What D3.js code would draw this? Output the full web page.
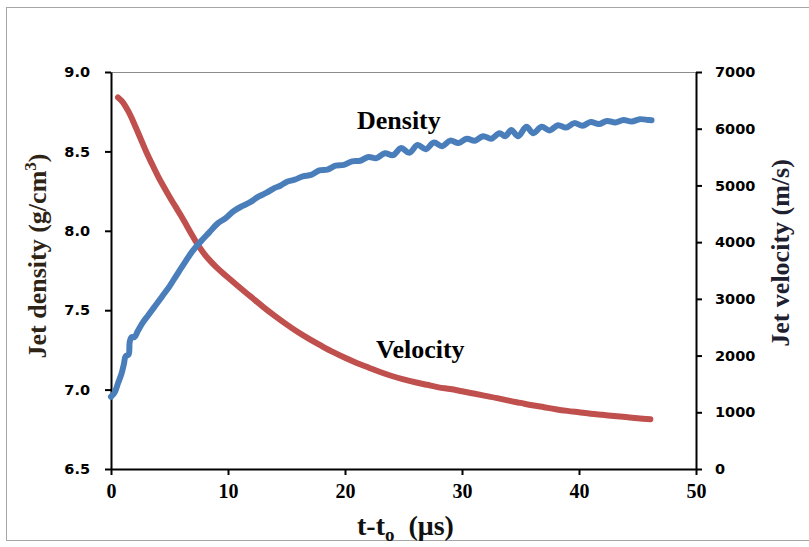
<!DOCTYPE html>
<html>
<head>
<meta charset="utf-8">
<script src="https://cdn.jsdelivr.net/npm/d3@7"></script>
<style>
  body { margin: 0; background: #fff; }
  svg { display: block; }
</style>
</head>
<body>
<div id="chart"></div>
<script>
// density curve (t in µs, g/cm3)
const densityTime = [0.0, 0.3, 0.6, 0.9, 1.1, 1.25, 1.5, 1.6, 1.75, 2.0, 2.3, 2.7, 3.2, 3.8, 4.4, 5.0, 5.6, 6.3, 7.0, 7.7, 8.4, 9.1, 9.8, 10.5, 11.2, 11.9, 12.6, 13.3, 14.0, 14.5,
  15.0, 15.7, 16.4, 17.1, 17.8, 18.5, 19.2, 19.9, 20.6, 21.3, 22.0, 22.7, 23.4, 24.1, 24.8, 25.5, 26.2, 26.9, 27.6, 28.3, 29.0, 29.7, 30.4, 31.1, 31.8, 32.5, 33.2, 33.7,
  34.2, 34.8, 35.5, 36.1, 36.8, 37.5, 38.2, 38.9, 39.6, 40.3, 41.0, 41.7, 42.4, 43.1, 43.8, 44.5, 45.2, 45.9, 46.2]
const densityValues = [6.955, 6.98, 7.04, 7.10, 7.16, 7.21, 7.22, 7.30, 7.33, 7.33, 7.37, 7.42, 7.47, 7.53, 7.59, 7.65, 7.72, 7.80, 7.875, 7.935, 7.99, 8.045, 8.08, 8.125, 8.155, 8.18, 8.215, 8.24, 8.27, 8.285,
  8.308, 8.322, 8.343, 8.352, 8.38, 8.385, 8.41, 8.415, 8.437, 8.441, 8.465, 8.458, 8.488, 8.476, 8.521, 8.491, 8.541, 8.514, 8.556, 8.533, 8.568, 8.553, 8.58, 8.567, 8.596, 8.58, 8.615, 8.595,
  8.635, 8.595, 8.655, 8.615, 8.655, 8.632, 8.665, 8.65, 8.678, 8.662, 8.685, 8.672, 8.692, 8.682, 8.698, 8.688, 8.703, 8.698, 8.696]

// velocity curve (t in µs, m/s)
const velocityTime = [0.6, 1.0, 1.5, 2.0, 2.5, 3.0, 3.5, 4.0, 4.5, 5.0, 5.5, 6.0, 6.5, 7.0, 7.5, 8.0, 8.5, 9.0, 9.5, 10.0, 11.0, 12.0, 13.0, 14.0, 15.0, 16.0, 17.0, 18.0, 19.0, 20.0,
  21.0, 22.0, 23.0, 24.0, 25.0, 26.0, 27.0, 28.0, 29.0, 30.0, 31.0, 32.0, 33.0, 34.0, 35.0, 36.0, 37.0, 38.0, 39.0, 40.0, 41.0, 42.0, 43.0, 44.0, 45.0, 46.1]
const velocityValues = [6550, 6470, 6300, 6080, 5840, 5600, 5380, 5170, 4980, 4800, 4630, 4460, 4280, 4100, 3930, 3785, 3665, 3560, 3465, 3375, 3200, 3030, 2860, 2700, 2550, 2410, 2285, 2170, 2060, 1960,
  1870, 1790, 1710, 1640, 1580, 1530, 1485, 1440, 1410, 1370, 1330, 1290, 1250, 1205, 1165, 1125, 1090, 1055, 1025, 1000, 975, 955, 935, 915, 895, 876]

const xTicks = [0, 10, 20, 30, 40, 50]
const densityTicks = [6.5, 7.0, 7.5, 8.0, 8.5, 9.0]
const velocityTicks = [0, 1000, 2000, 3000, 4000, 5000, 6000, 7000]

const width = 809, height = 547
const plotLeft = 111, plotRight = 696, plotTop = 72, plotBottom = 469

const svg = d3.select("#chart")
  .append("svg")
    .attr("width", width)
    .attr("height", height)

// outer frame
svg.append("rect")
  .attr("x", 6.5)
  .attr("y", 7.5)
  .attr("width", 820)
  .attr("height", 533)
  .attr("fill", "none")
  .attr("stroke", "#a6a6a6")

const xScale = d3.scaleLinear().domain([0, 50]).range([plotLeft, plotRight])
const yDensity = d3.scaleLinear().domain([6.5, 9.0]).range([plotBottom, plotTop])
const yVelocity = d3.scaleLinear().domain([0, 7000]).range([plotBottom, plotTop])

// thin top border of the plot area
svg.append("line")
  .attr("x1", plotLeft).attr("x2", plotRight)
  .attr("y1", plotTop + 0.5).attr("y2", plotTop + 0.5)
  .attr("stroke", "#8c8c8c")
  .attr("stroke-width", 1)

const styleAxis = g => {
  g.select(".domain").attr("stroke", "#000").attr("stroke-width", 2)
  g.selectAll(".tick line").attr("stroke", "#000").attr("stroke-width", 2)
}

svg.append("g")
  .attr("transform", `translate(0, ${plotBottom})`)
  .call(d3.axisBottom(xScale).tickValues(xTicks).tickSize(6).tickSizeOuter(0).tickPadding(9))
  .call(styleAxis)
  .call(g => g.selectAll(".tick text")
    .style("font-family", "'Liberation Serif', 'Times New Roman', serif")
    .style("font-weight", "bold")
    .style("font-size", "20px")
    .attr("fill", "#000"))

svg.append("g")
  .attr("transform", `translate(${plotLeft}, 0)`)
  .call(d3.axisLeft(yDensity).tickValues(densityTicks).tickFormat(d3.format(".1f")).tickSize(6).tickSizeOuter(0).tickPadding(15))
  .call(styleAxis)
  .call(g => g.selectAll(".tick text")
    .style("font-family", "'DejaVu Sans', sans-serif")
    .style("font-weight", "bold")
    .style("font-size", "14.5px")
    .attr("fill", "#000"))

svg.append("g")
  .attr("transform", `translate(${plotRight}, 0)`)
  .call(d3.axisRight(yVelocity).tickValues(velocityTicks).tickFormat(d3.format("d")).tickSize(6).tickSizeOuter(0).tickPadding(13))
  .call(styleAxis)
  .call(g => g.selectAll(".tick text")
    .style("font-family", "'DejaVu Sans', sans-serif")
    .style("font-weight", "bold")
    .style("font-size", "14.5px")
    .attr("fill", "#000"))

// curves
const densityLine = d3.line()
  .x((d, i) => xScale(densityTime[i]))
  .y(d => yDensity(d))
  .curve(d3.curveCatmullRom.alpha(0.5))

const velocityLine = d3.line()
  .x((d, i) => xScale(velocityTime[i]))
  .y(d => yVelocity(d))
  .curve(d3.curveCatmullRom.alpha(0.5))

svg.append("path")
  .datum(velocityValues)
  .attr("d", velocityLine)
  .attr("fill", "none")
  .attr("stroke", "#c0504d")
  .attr("stroke-width", 6)
  .attr("stroke-linecap", "round")
  .attr("stroke-linejoin", "round")

svg.append("path")
  .datum(densityValues)
  .attr("d", densityLine)
  .attr("fill", "none")
  .attr("stroke", "#4a7ebb")
  .attr("stroke-width", 6)
  .attr("stroke-linecap", "round")
  .attr("stroke-linejoin", "round")

const serif = "'Liberation Serif', 'Times New Roman', serif"

// curve labels
svg.append("text")
  .text("Density")
  .attr("x", 357).attr("y", 129)
  .style("font-family", serif).style("font-weight", "bold").style("font-size", "26px")

svg.append("text")
  .text("Velocity")
  .attr("x", 376).attr("y", 358)
  .style("font-family", serif).style("font-weight", "bold").style("font-size", "26px")

// axis titles
const xTitle = svg.append("text")
  .attr("x", 357).attr("y", 535)
  .style("font-family", serif).style("font-weight", "bold").style("font-size", "28px")
  .attr("fill", "#111")
xTitle.append("tspan").text("t-t")
xTitle.append("tspan").text("o").attr("dy", 6).style("font-size", "19px")
xTitle.append("tspan").text("\u00a0\u00a0(μs)").attr("dy", -6)

const yLeftTitle = svg.append("text")
  .attr("transform", "translate(46, 256) rotate(-90)")
  .attr("text-anchor", "middle")
  .style("font-family", serif).style("font-weight", "bold").style("font-size", "26px")
  .attr("fill", "#2e2416")
yLeftTitle.append("tspan").text("Jet density (g/cm")
yLeftTitle.append("tspan").text("3").attr("dy", -10).style("font-size", "17px")
yLeftTitle.append("tspan").text(")").attr("dy", 10)

svg.append("text")
  .text("Jet velocity (m/s)")
  .attr("transform", "translate(789, 253) rotate(-90)")
  .attr("text-anchor", "middle")
  .style("font-family", serif).style("font-weight", "bold").style("font-size", "26px")
  .attr("fill", "#1e2030")
</script>
</body>
</html>
